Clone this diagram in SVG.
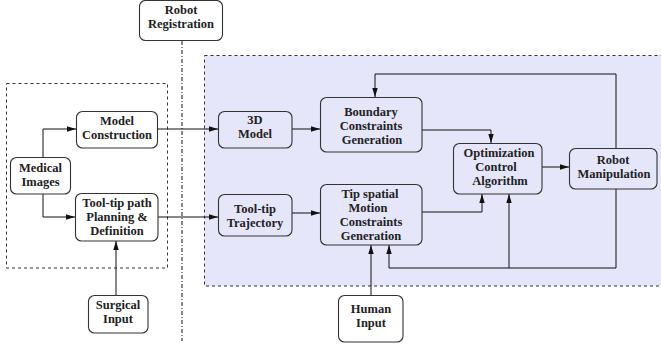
<svg xmlns="http://www.w3.org/2000/svg" width="661" height="345" viewBox="0 0 661 345">
<style>
.box{fill:#fff;stroke:#333;stroke-width:1.1}
.bbox{fill:#e6e6fa;stroke:#333;stroke-width:1.1}
.t{font-family:"Liberation Serif","Times New Roman",serif;font-weight:bold;font-size:12.5px;fill:#222;text-anchor:middle}
.c{fill:none;stroke:#111;stroke-width:1}
.region{fill:none;stroke:#333;stroke-width:1;stroke-dasharray:3,3}
</style>
<defs>
<marker id="ah" viewBox="0 0 10 6" refX="10" refY="3" markerWidth="9" markerHeight="5.4" markerUnits="userSpaceOnUse" orient="auto">
<path d="M0,0 L10,3 L0,6 Z" fill="#111"/>
</marker>
</defs>
<g id="regions">
<rect x="204.5" y="55.5" width="460" height="230.5" fill="#e6e6fa" stroke="#333" stroke-dasharray="3,3"/>
<rect class="region" x="6.5" y="83.5" width="161" height="184.5"/>
</g>
<g id="connectors">
<line x1="182" y1="41" x2="182" y2="341" stroke="#111" stroke-width="1" stroke-dasharray="4,2,1,2"/>
<path class="c" d="M43,157 V129 H76" marker-end="url(#ah)"/>
<path class="c" d="M43,194 V217 H75" marker-end="url(#ah)"/>
<path class="c" d="M157,129 H218" marker-end="url(#ah)"/>
<path class="c" d="M292,129 H320" marker-end="url(#ah)"/>
<path class="c" d="M158,217 H218" marker-end="url(#ah)"/>
<path class="c" d="M292,213 H320" marker-end="url(#ah)"/>
<path class="c" d="M422,130 H491 V143" marker-end="url(#ah)"/>
<path class="c" d="M422,212 H482 V194" marker-end="url(#ah)"/>
<path class="c" d="M542,167 H569" marker-end="url(#ah)"/>
<path class="c" d="M616,148 V74 H375 V97" marker-end="url(#ah)"/>
<path class="c" d="M616,189 V268 H389 V245" marker-end="url(#ah)"/>
<path class="c" d="M509,268 V194" marker-end="url(#ah)"/>
<path class="c" d="M371,295 V245" marker-end="url(#ah)"/>
<path class="c" d="M116,295 V241" marker-end="url(#ah)"/>
</g>
<g id="robot-registration">
<rect class="box" x="139.5" y="0.5" width="83" height="40" rx="6"/>
<text class="t" x="181" y="13.5">Robot</text>
<text class="t" x="181" y="27.5">Registration</text>
</g>
<g id="model-construction">
<rect class="box" x="76.5" y="111.5" width="81" height="36.5" rx="6"/>
<text class="t" x="117" y="125">Model</text>
<text class="t" x="117" y="139">Construction</text>
</g>
<g id="medical-images">
<rect class="box" x="10.5" y="157.5" width="60" height="36.5" rx="6"/>
<text class="t" x="40.5" y="172">Medical</text>
<text class="t" x="40.5" y="186">Images</text>
</g>
<g id="tooltip-path">
<rect class="box" x="75.5" y="193.5" width="82.5" height="47.5" rx="6"/>
<text class="t" x="117" y="207">Tool-tip path</text>
<text class="t" x="117" y="221">Planning &amp;</text>
<text class="t" x="117" y="235">Definition</text>
</g>
<g id="surgical-input">
<rect class="box" x="88.5" y="295.5" width="59.5" height="37.5" rx="6"/>
<text class="t" x="118" y="309">Surgical</text>
<text class="t" x="118" y="323">Input</text>
</g>
<g id="model-3d">
<rect class="bbox" x="218.5" y="111.5" width="73.5" height="36.5" rx="6"/>
<text class="t" x="255" y="124">3D</text>
<text class="t" x="255" y="138">Model</text>
</g>
<g id="tooltip-trajectory">
<rect class="bbox" x="218.5" y="194.5" width="73.5" height="41.5" rx="6"/>
<text class="t" x="255" y="212.5">Tool-tip</text>
<text class="t" x="255" y="226.5">Trajectory</text>
</g>
<g id="boundary-constraints">
<rect class="bbox" x="320.5" y="97.5" width="101.5" height="54.5" rx="6"/>
<text class="t" x="371" y="115.5">Boundary</text>
<text class="t" x="371" y="129.5">Constraints</text>
<text class="t" x="372" y="143.5">Generation</text>
</g>
<g id="tip-motion-constraints">
<rect class="bbox" x="320.5" y="184.5" width="101.5" height="60.5" rx="6"/>
<text class="t" x="370" y="198">Tip spatial</text>
<text class="t" x="368" y="212">Motion</text>
<text class="t" x="371" y="226">Constraints</text>
<text class="t" x="371" y="240">Generation</text>
</g>
<g id="optimization-control">
<rect class="bbox" x="453.5" y="143.5" width="88.5" height="50.5" rx="6"/>
<text class="t" x="499" y="156.5">Optimization</text>
<text class="t" x="496" y="170.5">Control</text>
<text class="t" x="500" y="184.5">Algorithm</text>
</g>
<g id="robot-manipulation">
<rect class="bbox" x="569.5" y="148.5" width="87.5" height="40.5" rx="6"/>
<text class="t" x="613" y="164">Robot</text>
<text class="t" x="614" y="178">Manipulation</text>
</g>
<g id="human-input">
<rect class="box" x="338.5" y="295.5" width="64.5" height="46.5" rx="6"/>
<text class="t" x="371" y="313">Human</text>
<text class="t" x="371" y="327">Input</text>
</g>
</svg>
